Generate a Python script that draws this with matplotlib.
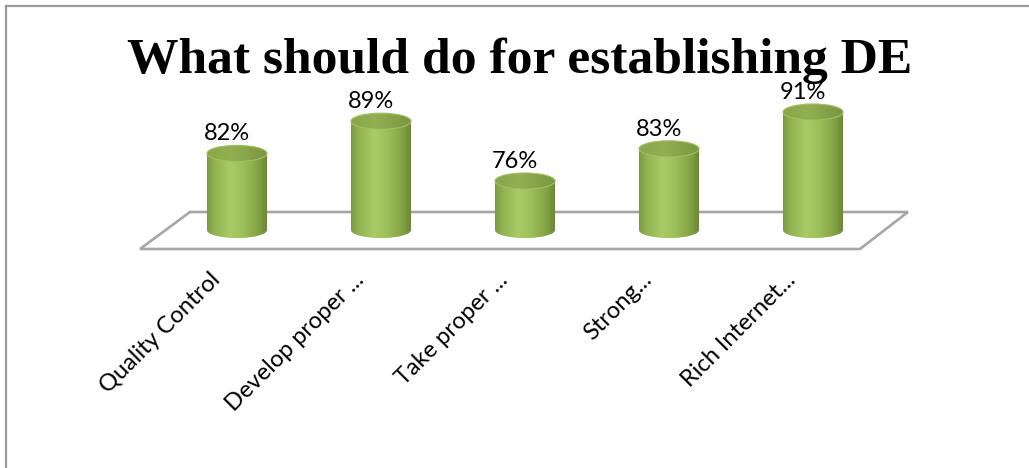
import numpy as np
import matplotlib
matplotlib.use("Agg")
import matplotlib.pyplot as plt
from matplotlib.path import Path
from matplotlib.patches import PathPatch, Ellipse, Polygon
from matplotlib.colors import LinearSegmentedColormap
from matplotlib.lines import Line2D

# ---- data ----
categories = ["Quality Control", "Develop proper ...", "Take proper ...",
              "Strong...", "Rich Internet..."]
values = [0.82, 0.89, 0.76, 0.83, 0.91]
value_labels = ["82%", "89%", "76%", "83%", "91%"]
title = "What should do for establishing DE"

# ---- figure / axes ----
W, H, DPI = 1029, 468, 100
fig = plt.figure(figsize=(W / DPI, H / DPI), dpi=DPI)
fig.patch.set_facecolor("white")

Y0, Y1 = 0.6535, 1.0      # cylinder base value, axis top
PAD = 0.06                # room below the base for the bottom ellipses
SCALE = 460.0             # pixels per unit of value
BASE_PX = 230.0           # pixel row (from top) of the cylinder base
ax_bot_px = BASE_PX + PAD * SCALE
ax_h_px = (Y1 - (Y0 - PAD)) * SCALE
ax = fig.add_axes([165 / W, (H - ax_bot_px) / H, 720 / W, ax_h_px / H])
XLIM = (-0.5, len(categories) - 0.5)
ax.axis("off")

BW = 0.417      # cylinder width (data units)
EH = 0.035      # ellipse height (data units)

body_cmap = LinearSegmentedColormap.from_list(
    "body", [(0, "#7c9a42"), (0.12, "#92b150"), (0.38, "#aacb66"),
             (0.6, "#9ebe5a"), (0.85, "#84a244"), (1, "#688433")])
top_cmap = LinearSegmentedColormap.from_list(
    "top", [(0, "#8aa64a"), (0.4, "#93af52"), (1, "#7a953e")])

grad = np.linspace(0, 1, 256).reshape(1, -1)


def ax_y(py):
    return (ax_bot_px - py) / ax_h_px


# floor
floor = Polygon([(-0.0347, ax_y(249)), (0.0347, ax_y(212)),
                 (1.0319, ax_y(212)), (0.9653, ax_y(249))],
                closed=True, transform=ax.transAxes, facecolor="white",
                edgecolor="#a6a6a6", lw=1.9, clip_on=False, zorder=1)
ax.add_patch(floor)

for i, (v, lbl, cat) in enumerate(zip(values, value_labels, categories)):
    th = np.linspace(np.pi, 2 * np.pi, 80)
    arc = np.column_stack([i + BW / 2 * np.cos(th), Y0 + EH / 2 * np.sin(th)])
    verts = np.vstack([[i - BW / 2, v], arc, [i + BW / 2, v], [i - BW / 2, v]])
    codes = [Path.MOVETO] + [Path.LINETO] * (len(verts) - 2) + [Path.CLOSEPOLY]
    body_path = Path(verts, codes)
    im = ax.imshow(grad, cmap=body_cmap, extent=(i - BW / 2, i + BW / 2, Y0 - EH / 2, v),
                   aspect="auto", zorder=3, interpolation="bilinear")
    im.set_clip_path(PathPatch(body_path, transform=ax.transData))

    top = Ellipse((i, v), BW, EH, transform=ax.transData)
    im2 = ax.imshow(grad, cmap=top_cmap, extent=(i - BW / 2, i + BW / 2, v - EH / 2, v + EH / 2),
                    aspect="auto", zorder=4, interpolation="bilinear")
    im2.set_clip_path(top)
    ax.add_patch(Ellipse((i, v), BW, EH, facecolor="none", edgecolor="#a3c061",
                         lw=0.8, zorder=5))

    ax.annotate(lbl, xy=(i, v + EH / 2), xytext=(-7, 3.5), textcoords="offset points",
                ha="center", va="baseline", fontsize=17, family="Lato",
                color="#000000", annotation_clip=False, zorder=6)
    ax.annotate(cat, xy=(i, Y0), xytext=(-20, -28), textcoords="offset points",
                rotation=45, rotation_mode="anchor", ha="right", va="top",
                fontsize=17, family="Lato", color="#000000", annotation_clip=False)

ax.set_xlim(*XLIM)
ax.set_ylim(Y0 - PAD, Y1)

# title, fitted to width
t = fig.text(520 / W, 1 - 73 / H, title, ha="center", va="baseline",
             fontsize=38, fontweight="bold", family="Liberation Serif")
fig.canvas.draw()
wpx = t.get_window_extent().width
t.set_fontsize(38 * 784 / wpx)

# frame lines (top & left)
fig.add_artist(Line2D([5.5 / W, 5.5 / W], [0, 1 - 5.5 / H], transform=fig.transFigure,
                      color="#9a9a9a", lw=1.6))
fig.add_artist(Line2D([5.5 / W, 1], [1 - 5.5 / H, 1 - 5.5 / H], transform=fig.transFigure,
                      color="#9a9a9a", lw=1.6))

fig.savefig("out.png", dpi=DPI)
